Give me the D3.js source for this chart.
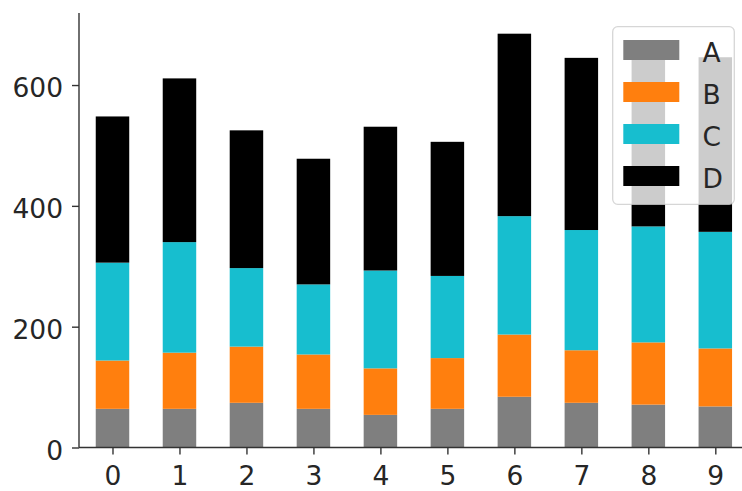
<!DOCTYPE html>
<html>
<head>
<meta charset="utf-8">
<script src="https://cdn.jsdelivr.net/npm/d3@7"></script>
<style>
  html, body { margin: 0; padding: 0; background: #fff; }
  svg { display: block; font-family: "DejaVu Sans", sans-serif; }
</style>
</head>
<body>
<svg id="chart" width="742" height="491"></svg>
<script>
// Stacked bar data: one array per series, indexed by category
const categories = ["0", "1", "2", "3", "4", "5", "6", "7", "8", "9"];
const seriesNames = ["A", "B", "C", "D"];
const seriesA = [64, 64, 74, 64, 54, 64, 84, 74, 71, 68];
const seriesB = [80, 93, 93, 90, 77, 84, 103, 87, 103, 96];
const seriesC = [162, 183, 130, 116, 162, 136, 196, 199, 192, 193];
const seriesD = [242, 271, 228, 208, 238, 222, 302, 285, 295, 289];
const yTicks = [0, 200, 400, 600];
const colors = ["#7f7f7f", "#ff7f0e", "#17becf", "#000000"];

const rows = categories.map((c, i) => ({
  cat: c, A: seriesA[i], B: seriesB[i], C: seriesC[i], D: seriesD[i]
}));
const stacked = d3.stack().keys(seriesNames)(rows);
const maxTotal = d3.max(rows, r => r.A + r.B + r.C + r.D);

const svg = d3.select("#chart");
const fontSize = 26.5;
const textColor = "#262626";

// Plot area
const plotLeft = 79, plotRight = 748.8, plotTop = 13, plotBottom = 447.5;

const x = d3.scaleLinear().domain([-0.5, categories.length - 0.5]).range([plotLeft, plotRight]);
const y = d3.scaleLinear().domain([0, maxTotal * 1.05]).range([plotBottom, plotTop]);
const barW = x(0.5) - x(0);

// Bars
const g = svg.append("g");
stacked.forEach((layer, k) => {
  g.selectAll(null).data(layer).enter().append("rect")
    .attr("x", (d, i) => x(i) - barW / 2)
    .attr("width", barW)
    .attr("y", d => y(d[1]))
    .attr("height", d => y(d[0]) - y(d[1]))
    .attr("fill", colors[k]);
});

// X axis
const xAxis = d3.axisBottom(x)
  .tickValues(d3.range(categories.length))
  .tickFormat(i => categories[i])
  .tickSize(7).tickPadding(12);
const gx = svg.append("g").attr("transform", `translate(0,${plotBottom})`).call(xAxis);
gx.select(".domain").attr("d", `M${plotLeft},0H742`).attr("stroke", "#333").attr("stroke-width", 1.4);
gx.selectAll(".tick line").attr("stroke", "#333").attr("stroke-width", 1.4);
gx.selectAll(".tick text").attr("font-size", fontSize).attr("fill", textColor)
  .attr("font-family", "DejaVu Sans").attr("dy", "0.71em");

// Y axis
const yAxis = d3.axisLeft(y).tickValues(yTicks).tickSize(7).tickPadding(9);
const gy = svg.append("g").attr("transform", `translate(${plotLeft},0)`).call(yAxis);
gy.select(".domain").attr("d", `M0,${plotTop}V${plotBottom}`).attr("stroke", "#333").attr("stroke-width", 1.4);
gy.selectAll(".tick line").attr("stroke", "#333").attr("stroke-width", 1.4);
gy.selectAll(".tick text").attr("font-size", fontSize).attr("fill", textColor)
  .attr("font-family", "DejaVu Sans").attr("dy", "0.45em");

// Legend
const lg = svg.append("g");
lg.append("rect")
  .attr("x", 612.7).attr("y", 26.7).attr("width", 121.6).attr("height", 177.6)
  .attr("rx", 5).attr("ry", 5)
  .attr("fill", "#fff").attr("fill-opacity", 0.8)
  .attr("stroke", "#cccccc").attr("stroke-opacity", 0.8).attr("stroke-width", 1.3);
seriesNames.forEach((name, k) => {
  const cy = 50 + k * 42;
  lg.append("rect")
    .attr("x", 623.3).attr("y", cy - 10).attr("width", 56).attr("height", 20)
    .attr("fill", colors[k]);
  lg.append("text")
    .attr("x", 702.5).attr("y", cy + 11.5)
    .attr("font-size", fontSize).attr("fill", textColor)
    .attr("font-family", "DejaVu Sans")
    .text(name);
});
</script>
</body>
</html>
